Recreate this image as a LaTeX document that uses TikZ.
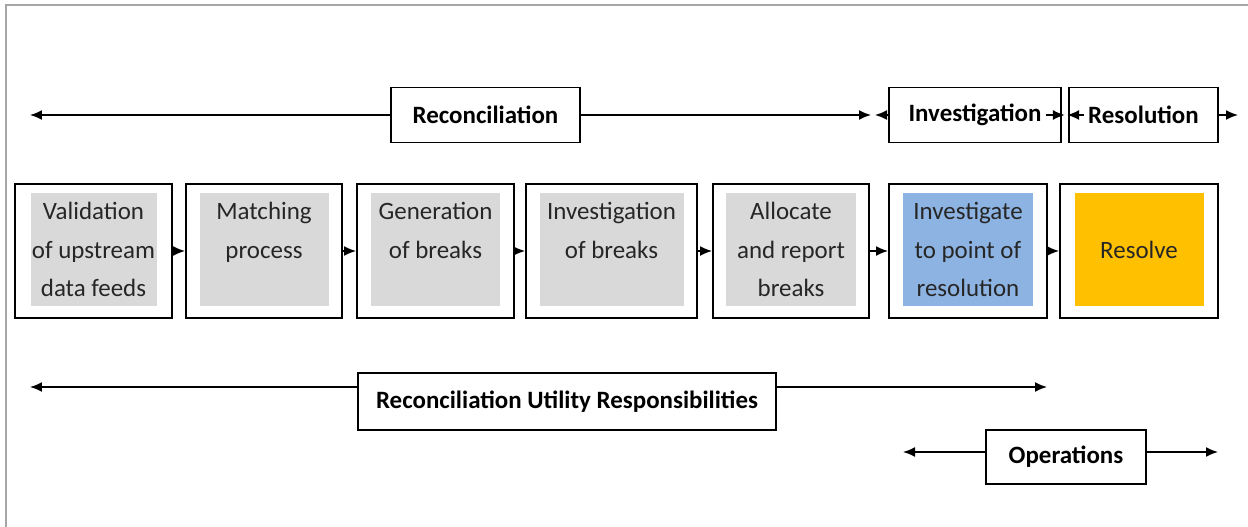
\documentclass[tikz,border=0pt]{standalone}
\usepackage{fontspec}
\setmainfont{Carlito}
\usetikzlibrary{arrows.meta}
\definecolor{stepGray}{RGB}{217, 217, 217}
\definecolor{stepBlue}{RGB}{141, 179, 226}
\definecolor{stepGold}{RGB}{255, 192, 0}

\begin{document}
\begin{tikzpicture}[x=0.02cm, y=-0.02cm,
    >={Latex[length=0.24cm, width=0.2cm]},
    every node/.style={inner sep=0pt, font=\fontsize{14.2}{22}\selectfont},
    outerbox/.style={draw, line width=1.1pt, fill=white, minimum height=134*0.02cm},
    innerbox/.style={minimum height=113*0.02cm, align=center, text=black!85},
    phasebox/.style={draw, line width=1pt, fill=white, minimum height=55*0.02cm, font=\fontsize{14.2}{17}\selectfont\bfseries},
    span/.style={line width=0.9pt}]
        \useasboundingbox (0,0) rectangle (1248,527);
        \draw[gray!70, line width=0.04cm] (6,527) -- (6,5.5) -- (1248,5.5);

        % process steps
        \foreach \n/\x/\w/\iw/\c/\t in {
            1/93.5/157/126/stepGray/{Validation\\of upstream\\data feeds},
            2/264/156/129/stepGray/{Matching\\process\\\mbox{}},
            3/435.5/157/129/stepGray/{Generation\\of breaks\\\mbox{}},
            4/611.5/171/144/stepGray/{Investigation\\of breaks\\\mbox{}},
            5/791/156/130/stepGray/{Allocate\\and report\\breaks},
            6/968/158/130/stepBlue/{Investigate\\to point of\\resolution},
            7/1139/158/129/stepGold/{Resolve}} {
          \node[outerbox, minimum width=\w*0.02cm] (s\n) at (\x,251) {};
          \node[innerbox, fill=\c, minimum width=\iw*0.02cm] (t\n) at (\x,249.5) {\t};
        }
        \foreach \a/\b in {1/2, 2/3, 3/4, 4/5, 5/6, 6/7}
          \draw[->, span] (s\a.east) -- (s\b.west);

        % phases
        \node[phasebox, minimum width=189*0.02cm] (rec) at (485.5,115) {Reconciliation};
        \node[phasebox, minimum width=172*0.02cm] (inv) at (975,115) {Investigation};
        \node[phasebox, minimum width=149*0.02cm] (res) at (1143.5,115) {Resolution};
        \coordinate (recL) at (30,115);
        \coordinate (recR) at (871,115);
        \coordinate (invL) at (875,115);
        \coordinate (resR) at (1238,115);
        \draw[->, span] (rec.west) -- (recL);
        \draw[->, span] (rec.east) -- (recR);
        \draw[->, span] (inv.west) -- (invL);
        \draw[->, span] ([xshift=-0.32cm]inv.east) -- ([xshift=0.06cm]inv.east);
        \draw[->, span] ([xshift=0.32cm]res.west) -- ([xshift=-0.02cm]res.west);
        \draw[->, span] (res.east) -- (resR);

        % responsibilities
        \node[phasebox, minimum width=418*0.02cm, minimum height=57*0.02cm] (rur) at (567,401.5) {Reconciliation Utility Responsibilities};
        \node[phasebox, minimum width=160*0.02cm, minimum height=54*0.02cm] (ops) at (1066,457) {Operations};
        \coordinate (rurL) at (30,387);
        \coordinate (rurR) at (1047,387);
        \coordinate (opsL) at (903,452);
        \coordinate (opsR) at (1218,452);
        \draw[->, span] (rur.west |- rurL) -- (rurL);
        \draw[->, span] (rur.east |- rurR) -- (rurR);
        \draw[->, span] (ops.west |- opsL) -- (opsL);
        \draw[->, span] (ops.east |- opsR) -- (opsR);
\end{tikzpicture}
\end{document}
